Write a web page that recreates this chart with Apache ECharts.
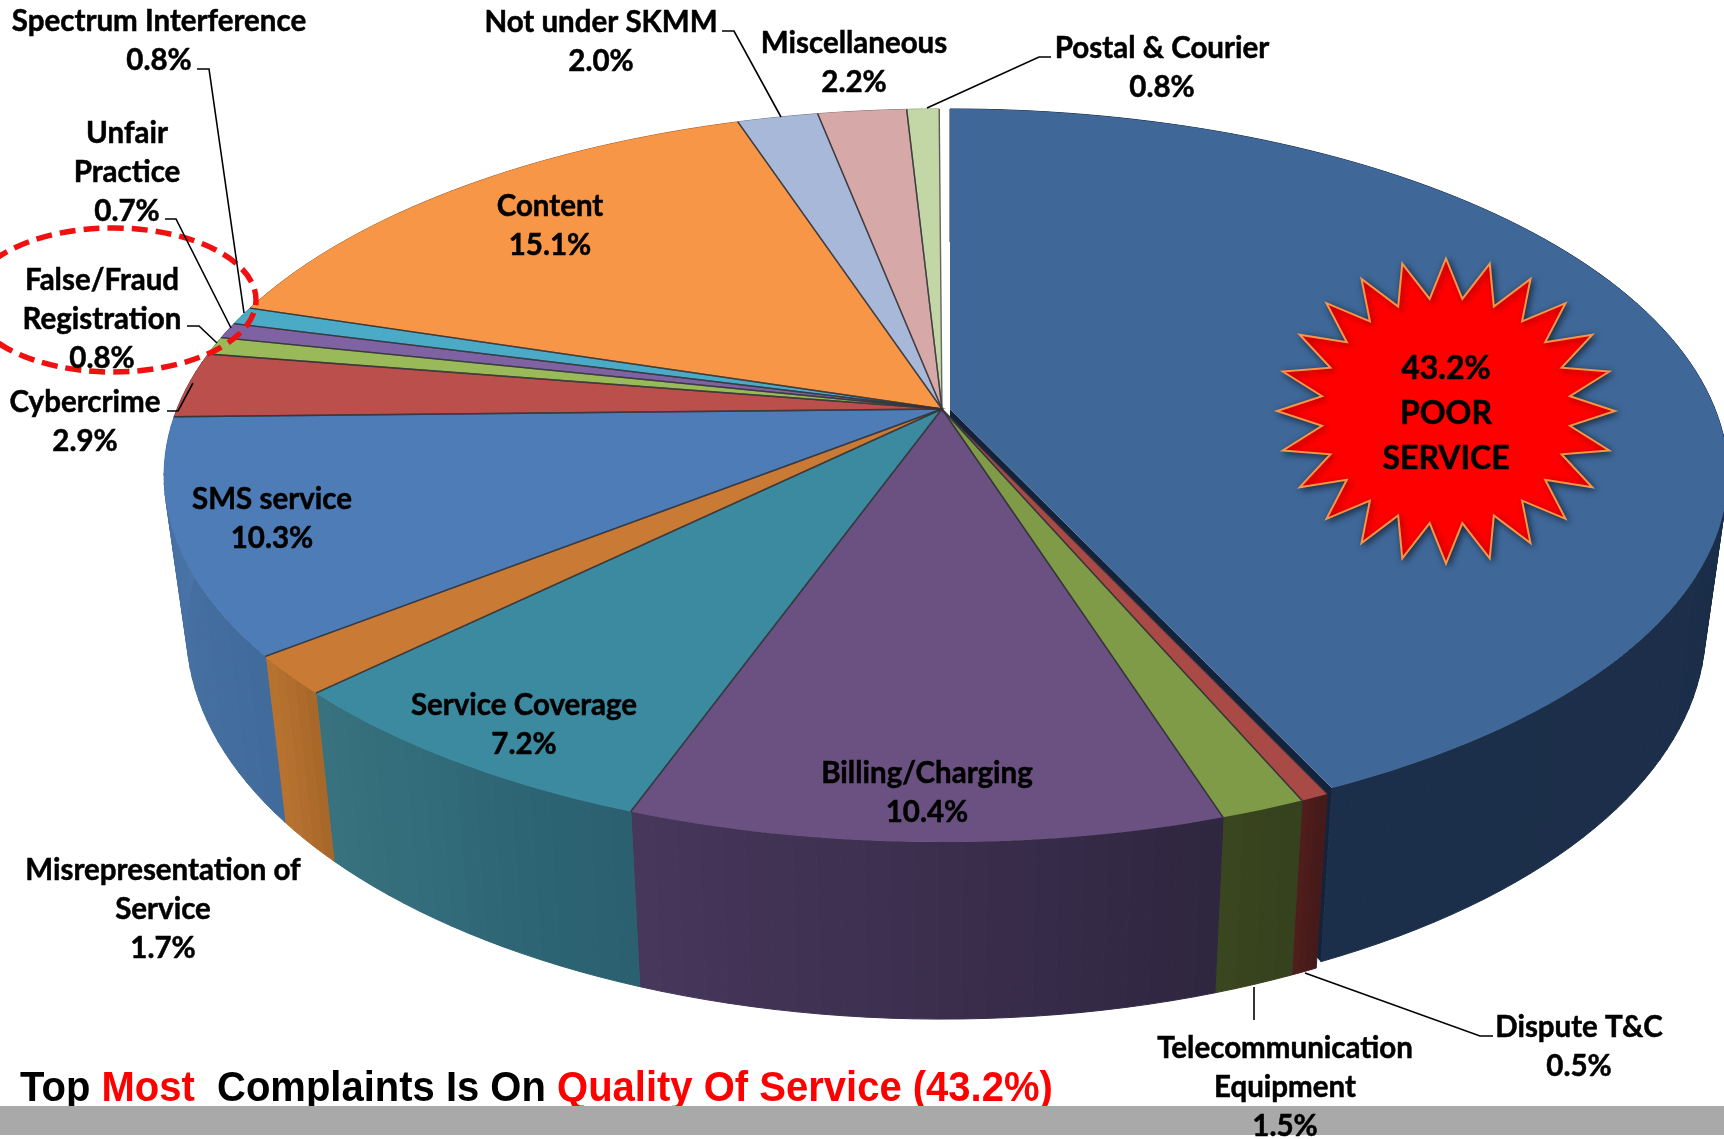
<!DOCTYPE html>
<html>
<head>
<meta charset="utf-8">
<title>Complaints</title>
<style>
  html, body { margin: 0; padding: 0; background: #fff; }
  #chart { width: 1724px; height: 1139px; }
</style>
<script src="https://cdn.jsdelivr.net/npm/echarts@6/dist/echarts.min.js"></script>
</head>
<body>
<div id="chart"></div>
<script>
// clockwise from 12 o'clock
const categories = ['POOR\nSERVICE', 'Dispute T&C', 'Telecommunication\nEquipment', 'Billing/Charging',
  'Service Coverage', 'Misrepresentation of\nService', 'SMS service', 'Cybercrime',
  'False/Fraud\nRegistration', 'Unfair\nPractice', 'Spectrum Interference', 'Content',
  'Not under SKMM', 'Miscellaneous', 'Postal & Courier']
const values = [43.2, 0.5, 1.5, 10.4, 7.2, 1.7, 10.3, 2.9, 0.8, 0.7, 0.8, 15.1, 2.0, 2.2, 0.8]

const topColors = ['#3f6899', '#a94a47', '#7f9b48', '#6a5181', '#3b8aa0', '#c97a35', '#4d7cb7', '#ba4f4c',
  '#9aba59', '#7f62a1', '#4babc6', '#f79646', '#a8b8d8', '#d7a8a8', '#c3d6a6']
const wallLeft = ['#1c2f4a', '#4f1d1c', '#3a4620', '#47375b', '#38727f', '#b8722f', '#4a74a8', '#7a3533',
  '#64793a', '#52406a', '#2f7082', '#a5632e', '#6e788d', '#8c6e6e', '#7f8c6c']
const wallRight = ['#1a2b45', '#451a1a', '#36411e', '#2f2640', '#2a6070', '#a8682a', '#416b9b', '#7a3533',
  '#64793a', '#52406a', '#2f7082', '#a5632e', '#6e788d', '#8c6e6e', '#7f8c6c']

// label centres, same order as categories
const labelX = [1446, 1579, 1285, 927, 524, 163, 272, 85, 102, 127, 159, 550, 601, 854, 1162]
const labelY = [414, 1047, 1087, 793, 725, 909, 519, 422, 319, 172, 41, 226, 42, 63, 68]

const leaders = [
  [[197, 69], [209, 69], [244, 313]],
  [[165, 219], [176, 219], [231, 328]],
  [[187, 326], [199, 326], [217, 343]],
  [[167, 411], [178, 411], [193, 383]],
  [[722, 31], [734, 31], [781, 117]],
  [[1051, 57], [1039, 57], [927, 108]],
  [[1254, 987], [1254, 1020]],
  [[1305, 973], [1480, 1036], [1493, 1036]]
]

// perspective disc, fitted to the picture
const cx = 942, cy = 409, ra = 765, rb = 354.5, persp = 0.1815
const bottomCy = 560, bottomSx = 0.971, bottomSy = 1.06
const explodeDx = 8, explodeFrontSquash = 0.982
const mainTurn = -0.25

const total = values.reduce((a, b) => a + b, 0)
let sum = 0
const sliceData = values.map(v => {
  const start = sum / total * 360
  sum += v
  return [start, sum / total * 360]
})

function topPoint(deg, r) {
  const t = deg * Math.PI / 180
  const X = r * Math.sin(t)
  const Y = -r * Math.cos(t)
  const w = 1 - persp * Y
  return [cx + ra * X / w, cy + rb * Y / w]
}
function toBottom(p) {
  return [cx + (p[0] - cx) * bottomSx, bottomCy + (p[1] - cy) * bottomSy]
}
function arc(a0, a1) {
  const pts = []
  const n = Math.max(4, Math.ceil((a1 - a0) / 1.5))
  for (let i = 0; i <= n; i++) pts.push(topPoint(a0 + (a1 - a0) * i / n, 1))
  return pts
}
function renderSlice(params, api) {
  const i = params.dataIndex
  const first = i === 0
  const a0 = api.value(0) + (first ? 0 : mainTurn)
  const a1 = api.value(1) + (first ? 0 : mainTurn)
  const squash = p => first && p[1] > cy ? [p[0], cy + (p[1] - cy) * explodeFrontSquash] : p
  const move = p => first ? [p[0] + explodeDx, p[1]] : p
  const rim = arc(a0, a1).map(squash)
  const apex = topPoint(0, 0)
  const kids = []
  // wall as thin quads, the rim and the bottom edge cross at the sides of the disc
  for (let j = 0; j < rim.length - 1; j++) {
    // front rim runs right to left when going clockwise
    const color = echarts.color.lerp(j / (rim.length - 2), [wallRight[i], wallLeft[i]])
    kids.push({
      type: 'polygon',
      z2: first ? 1 : 4,
      shape: { points: [rim[j], rim[j + 1], toBottom(rim[j + 1]), toBottom(rim[j])].map(move) },
      style: { fill: color, stroke: color, lineWidth: 1 }
    })
  }
  kids.push({
    type: 'polygon',
    z2: first ? 3 : 5,
    shape: { points: [apex].concat(rim).map(move) },
    style: { fill: topColors[i] }
  })
  if (first) {
    // cut face along the lower edge of the pulled out slice
    const e = rim[rim.length - 1]
    kids.push({
      type: 'polygon',
      z2: 2,
      shape: { points: [apex, e, toBottom(e), toBottom(apex)].map(move) },
      style: { fill: '#14233c' }
    })
  } else {
    // dark seams between the slices, the rim itself has none
    kids.push({
      type: 'polyline',
      z2: 6,
      shape: { points: [rim[0], apex, rim[rim.length - 1]] },
      style: { fill: 'none', stroke: 'rgba(50,50,55,0.7)', lineWidth: 1.4 }
    })
  }
  return { type: 'group', children: kids }
}

// 24 point burst
const burstCx = 1446, burstCy = 411
const burst = []
for (let i = 0; i < 48; i++) {
  const t = i * Math.PI / 24
  const rx = i % 2 ? 125 : 169
  const ry = i % 2 ? 113 : 152.5
  burst.push([burstCx + rx * Math.sin(t), burstCy - ry * Math.cos(t)])
}

const labelFont = 'bold 29.5px Lato, "Noto Sans", sans-serif'
const graphics = [
  {
    type: 'text', z: 100, x: 20, y: 1089, scaleY: 1.06,
    style: {
      text: '{b|Top }{r|Most}{b|  Complaints Is On }{r|Quality Of Service (43.2%)}',
      verticalAlign: 'middle',
      rich: {
        b: { font: 'bold 40px "Liberation Sans", Arial, sans-serif', fill: '#000' },
        r: { font: 'bold 40px "Liberation Sans", Arial, sans-serif', fill: '#f00' }
      }
    }
  },
  { type: 'rect', z: 101, shape: { x: 0, y: 1106, width: 1724, height: 29 }, style: { fill: '#a9a9a9' } },
  {
    type: 'ellipse', z: 102, shape: { cx: 113, cy: 300, rx: 143, ry: 72 },
    style: { fill: 'none', stroke: '#f01010', lineWidth: 5.5, lineDash: [16, 8] }
  },
  {
    type: 'polygon', z: 102, shape: { points: burst },
    style: { fill: '#ff0000', stroke: '#f79646', lineWidth: 2, shadowBlur: 7, shadowOffsetX: 2, shadowOffsetY: 2, shadowColor: 'rgba(0,0,0,0.55)' }
  }
]
leaders.forEach(pts => {
  graphics.push({ type: 'polyline', z: 103, shape: { points: pts }, style: { fill: 'none', stroke: '#000', lineWidth: 1.6 } })
})
categories.forEach((name, i) => {
  const first = i === 0
  const pct = values[i].toFixed(1) + '%'
  graphics.push({
    type: 'text', z: 104, x: labelX[i], y: labelY[i],
    style: {
      text: first ? pct + '\n' + name : name + '\n' + pct,
      font: first ? 'bold 32px Lato, "Noto Sans", sans-serif' : labelFont,
      fill: '#000',
      stroke: '#000',
      lineWidth: 0.5,
      align: 'center',
      verticalAlign: 'middle',
      lineHeight: first ? 45 : 39
    }
  })
})

const chart = echarts.init(document.getElementById('chart'))
chart.setOption({
  animation: false,
  backgroundColor: '#fff',
  series: [{
    type: 'custom',
    coordinateSystem: 'none',
    silent: true,
    clip: false,
    renderItem: renderSlice,
    data: sliceData
  }],
  graphic: graphics
})
</script>
</body>
</html>
